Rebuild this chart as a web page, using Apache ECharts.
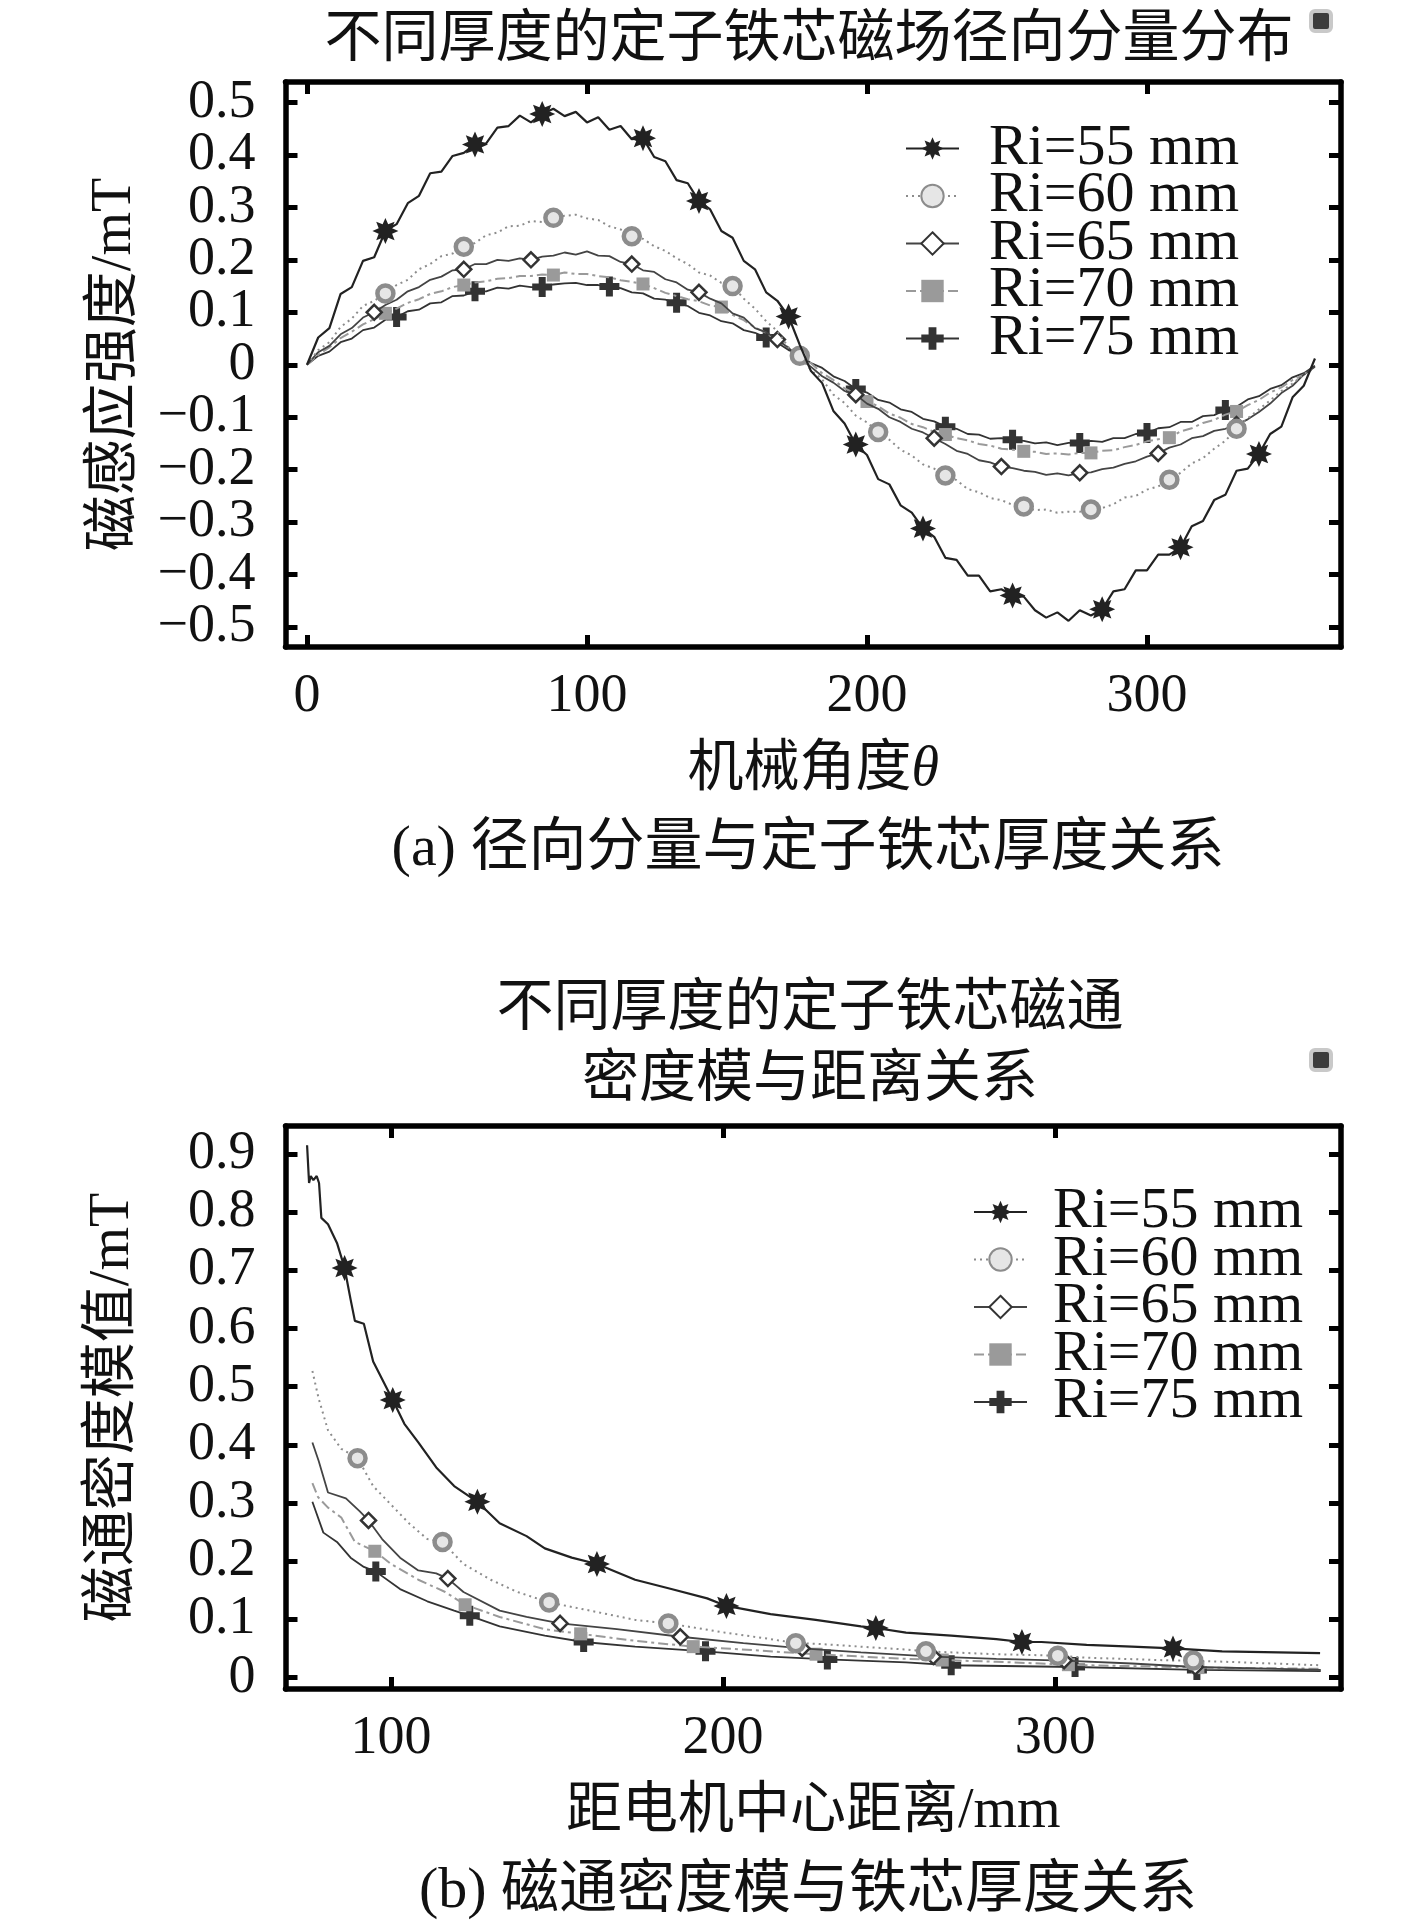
<!DOCTYPE html>
<html><head><meta charset="utf-8">
<script src="https://cdn.jsdelivr.net/npm/echarts@6/dist/echarts.min.js"></script>
<style>html,body{margin:0;padding:0;background:#fff;}#c{width:1417px;height:1926px;}</style>
</head><body><div id="c"></div>
<script>
// ---------- DATA ----------
const seriesNames = ['Ri=55 mm', 'Ri=60 mm', 'Ri=65 mm', 'Ri=70 mm', 'Ri=75 mm'];

// (a) radial component vs mechanical angle
const angleA = [0,4,8,12,16,20,24,28,32,36,40,44,48,52,56,60,64,68,72,76,80,84,88,92,96,100,104,108,112,116,
  120,124,128,132,136,140,144,148,152,156,160,164,168,172,176,180,184,188,192,196,200,204,208,212,216,220,224,228,232,236,
  240,244,248,252,256,260,264,268,272,276,280,284,288,292,296,300,304,308,312,316,320,324,328,332,336,340,344,348,352,356,360];
const a55 = [0.000,0.052,0.070,0.135,0.148,0.198,0.205,0.255,0.268,0.308,
  0.322,0.365,0.368,0.398,0.404,0.420,0.422,0.452,0.455,0.475,
  0.462,0.478,0.488,0.474,0.482,0.462,0.472,0.448,0.455,0.430,
  0.432,0.396,0.388,0.352,0.346,0.312,0.296,0.255,0.242,0.198,
  0.182,0.138,0.122,0.092,0.038,-0.012,-0.035,-0.088,-0.112,-0.152,
  -0.172,-0.218,-0.228,-0.268,-0.282,-0.312,-0.328,-0.368,-0.372,-0.402,
  -0.402,-0.432,-0.428,-0.440,-0.442,-0.468,-0.482,-0.472,-0.488,-0.468,
  -0.478,-0.466,-0.432,-0.428,-0.392,-0.392,-0.362,-0.362,-0.348,-0.308,
  -0.298,-0.258,-0.248,-0.202,-0.198,-0.170,-0.132,-0.118,-0.062,-0.040,
  0.012];
const a60 = [0.000,0.028,0.043,0.072,0.088,0.112,0.122,0.136,0.152,0.162,
  0.182,0.192,0.207,0.212,0.225,0.232,0.247,0.252,0.264,0.265,
  0.274,0.272,0.280,0.284,0.286,0.279,0.276,0.264,0.258,0.245,
  0.240,0.226,0.217,0.203,0.192,0.176,0.170,0.156,0.150,0.126,
  0.107,0.083,0.064,0.033,0.017,-0.010,-0.028,-0.057,-0.073,-0.097,
  -0.110,-0.128,-0.143,-0.162,-0.173,-0.190,-0.198,-0.211,-0.220,-0.237,
  -0.243,-0.254,-0.258,-0.267,-0.270,-0.277,-0.276,-0.282,-0.280,-0.280,
  -0.276,-0.273,-0.266,-0.253,-0.250,-0.238,-0.232,-0.219,-0.206,-0.188,
  -0.178,-0.160,-0.145,-0.122,-0.102,-0.085,-0.068,-0.050,-0.036,-0.018,
  -0.004];
const a65 = [0.000,0.024,0.036,0.058,0.070,0.090,0.100,0.114,0.124,0.140,
  0.148,0.162,0.168,0.180,0.182,0.192,0.192,0.200,0.198,0.203,
  0.200,0.206,0.208,0.214,0.210,0.216,0.208,0.207,0.196,0.192,
  0.180,0.177,0.163,0.157,0.143,0.138,0.126,0.117,0.098,0.090,
  0.070,0.062,0.048,0.032,0.013,-0.004,-0.022,-0.034,-0.050,-0.057,
  -0.074,-0.084,-0.100,-0.109,-0.122,-0.129,-0.140,-0.151,-0.164,-0.170,
  -0.182,-0.186,-0.194,-0.197,-0.202,-0.204,-0.210,-0.207,-0.211,-0.206,
  -0.205,-0.199,-0.196,-0.189,-0.184,-0.175,-0.169,-0.158,-0.152,-0.140,
  -0.136,-0.126,-0.122,-0.114,-0.104,-0.090,-0.074,-0.054,-0.040,-0.019,
  -0.004];
const a70 = [0.000,0.019,0.033,0.051,0.063,0.077,0.087,0.098,0.107,0.118,
  0.125,0.135,0.140,0.148,0.152,0.157,0.159,0.164,0.165,0.169,
  0.169,0.172,0.171,0.176,0.173,0.173,0.169,0.167,0.161,0.158,
  0.154,0.146,0.137,0.131,0.125,0.121,0.113,0.110,0.095,0.085,
  0.071,0.061,0.045,0.033,0.018,0.003,-0.016,-0.029,-0.045,-0.055,
  -0.070,-0.079,-0.093,-0.101,-0.113,-0.119,-0.128,-0.133,-0.140,-0.144,
  -0.151,-0.154,-0.160,-0.162,-0.165,-0.166,-0.170,-0.169,-0.171,-0.168,
  -0.168,-0.164,-0.163,-0.157,-0.153,-0.146,-0.142,-0.139,-0.127,-0.121,
  -0.111,-0.105,-0.095,-0.089,-0.077,-0.067,-0.053,-0.043,-0.029,-0.019,
  -0.006];
const a75 = [0.000,0.017,0.025,0.043,0.050,0.066,0.071,0.086,0.091,0.102,
  0.105,0.117,0.119,0.131,0.132,0.140,0.140,0.147,0.145,0.151,
  0.148,0.148,0.153,0.155,0.156,0.152,0.152,0.149,0.146,0.138,
  0.136,0.126,0.124,0.118,0.112,0.099,0.094,0.083,0.079,0.066,
  0.061,0.052,0.042,0.028,0.020,0.003,-0.006,-0.022,-0.031,-0.046,
  -0.053,-0.067,-0.072,-0.085,-0.090,-0.103,-0.108,-0.118,-0.122,-0.132,
  -0.133,-0.141,-0.140,-0.143,-0.145,-0.150,-0.148,-0.153,-0.149,-0.149,
  -0.145,-0.147,-0.140,-0.140,-0.132,-0.130,-0.121,-0.119,-0.109,-0.109,
  -0.098,-0.096,-0.086,-0.080,-0.066,-0.060,-0.046,-0.039,-0.024,-0.016,
  -0.002];
const marksA55 = [28,60,84,120,140,172,196,220,252,284,312,340];
const marksA60 = [28,56,88,116,152,176,204,228,256,280,308,332];
const marksA65 = [24,56,80,116,140,168,196,224,248,276,304,332];
const marksA70 = [28,56,88,120,148,176,200,228,256,280,308,332];
const marksA75 = [32,60,84,108,132,164,196,228,252,276,300,328];
const xTicksA = [0, 100, 200, 300];
const yTicksA = [-0.5,-0.4,-0.3,-0.2,-0.1,0,0.1,0.2,0.3,0.4,0.5];
const yLabelsA1 = [-0.4,-0.2,0,0.2,0.4];
const yLabelsA2 = [-0.5,-0.3,-0.1,0.1,0.3,0.5];

// (b) flux density magnitude vs distance from motor centre
const b55x = [74.7,75.3,75.8,76.6,77.6,78.3,79,81,83.7,86,87.8,89.1,91.8,94.6,100.5,104,108.2,113.6,119,126,132.7,140.8,146.3,154.4,162,173.5,184.4,195.2,201,214.3,227.9,241.5,246,255.1,268.7,282.3,290,295.9,309.5,323.1,335.5,350.3,379.8];
const b55y = [0.915,0.85,0.862,0.855,0.862,0.85,0.79,0.779,0.747,0.704,0.65,0.613,0.608,0.543,0.477,0.436,0.404,0.361,0.329,0.302,0.265,0.243,0.222,0.206,0.195,0.168,0.152,0.136,0.123,0.109,0.099,0.088,0.085,0.077,0.072,0.066,0.061,0.061,0.056,0.053,0.050,0.045,0.042];
const b60x = [76.3,78.2,81,85,89.9,94.6,100,105.4,110.9,115.5,121.8,130,138,147.6,159.9,173.5,183.5,200.7,214.3,221.9,227.9,255.1,261.1,282.3,300.8,309.5,336.7,341.6,380];
const b60y = [0.527,0.479,0.425,0.393,0.377,0.329,0.297,0.265,0.238,0.233,0.195,0.168,0.147,0.129,0.115,0.099,0.093,0.077,0.066,0.059,0.058,0.048,0.045,0.040,0.0375,0.034,0.029,0.029,0.021];
const b65x = [76.3,78.2,81,86.4,90.5,93.2,97.3,102.7,108.2,113.6,117.1,121.8,132.7,140.8,150.9,168,187.1,206.1,223.8,241.5,263.3,282.3,302.7,323.1,342.2,380];
const b65y = [0.404,0.372,0.318,0.308,0.286,0.27,0.238,0.206,0.184,0.179,0.17,0.147,0.115,0.104,0.093,0.083,0.07,0.059,0.05,0.043,0.036,0.032,0.029,0.024,0.018,0.013];
const b70x = [76.3,78,81,85,89.1,95.1,100,108.2,116.3,122.3,132.7,146.3,157.1,173.5,191,200.7,228,255.1,266,282.3,304,309.5,336.7,343,380];
const b70y = [0.334,0.31,0.292,0.275,0.233,0.217,0.195,0.168,0.147,0.125,0.104,0.083,0.075,0.063,0.053,0.05,0.04,0.032,0.03,0.027,0.022,0.021,0.018,0.017,0.015];
const b75x = [76.3,79.6,83.7,87.8,91.8,95.4,102.7,110.9,119,123.7,132.7,146.3,158,173.5,194.7,214.3,231.4,255.1,268.7,306,342.7,380];
const b75y = [0.302,0.249,0.233,0.206,0.19,0.182,0.152,0.131,0.115,0.106,0.088,0.072,0.061,0.053,0.045,0.036,0.031,0.026,0.021,0.018,0.013,0.011];
const marksB55 = [86,100.5,126,162,201,246,290,335.5];
const marksB60 = [89.9,115.5,147.6,183.5,221.9,261.1,300.8,341.6];
const marksB65 = [93.2,117.1,150.9,187.1,223.8,263.3,302.7,342.2];
const marksB70 = [95.1,122.3,157.1,191,228,266,304,343];
const marksB75 = [95.4,123.7,158,194.7,231.4,268.7,306,342.7];
const xTicksB = [100, 200, 300];
const yTicksB = [0,0.1,0.2,0.3,0.4,0.5,0.6,0.7,0.8,0.9];

// ---------- STYLE ----------
function starPath() {
  let d = '';
  for (let k = 0; k < 16; k++) {
    const r = k % 2 === 0 ? 10 : 5.6;
    const a = Math.PI * k / 8 - Math.PI / 2;
    d += (k ? 'L' : 'M') + (10 + r * Math.cos(a)).toFixed(2) + ',' + (10 + r * Math.sin(a)).toFixed(2);
  }
  return 'path://' + d + 'Z';
}
const plusPath = 'path://M6.5,0H13.5V6.5H20V13.5H13.5V20H6.5V13.5H0V6.5H6.5Z';
const looks = [
  {symbol: starPath(), size: 26, line: {color: '#222', width: 2.2, type: 'solid'}, item: {color: '#222'}},
  {symbol: 'circle', size: 16, line: {color: '#8c8c8c', width: 2, type: [2, 4]}, item: {color: '#e6e6e6', borderColor: '#8c8c8c', borderWidth: 4.5}},
  {symbol: 'diamond', size: 15, line: {color: '#444', width: 1.8, type: 'solid'}, item: {color: '#ffffff', borderColor: '#333', borderWidth: 2.5}},
  {symbol: 'rect', size: 13, line: {color: '#9a9a9a', width: 2, type: [10, 4, 3, 4]}, item: {color: '#9a9a9a'}},
  {symbol: plusPath, size: 20, line: {color: '#333', width: 1.8, type: 'solid'}, item: {color: '#333'}}
];
const SERIF = '"Liberation Serif", "Noto Sans CJK SC"';

function buildData(xs, ys, marks) {
  return xs.map((x, i) => marks.indexOf(x) >= 0 ? [x, ys[i]] : {value: [x, ys[i]], symbol: 'none'});
}
function lineSeries(k, xs, ys, marks, axisIdx) {
  const L = looks[k];
  return {
    type: 'line', name: seriesNames[k], xAxisIndex: axisIdx, yAxisIndex: axisIdx,
    data: buildData(xs, ys, marks), symbol: L.symbol, symbolSize: L.size,
    showSymbol: true, showAllSymbol: true, smooth: false,
    lineStyle: L.line, itemStyle: L.item, z: 10 - k, silent: true
  };
}
function frameAxis(pos, grid, min, max, ticks) {
  return {
    type: 'value', gridIndex: grid, position: pos, min: min, max: max,
    axisLine: {show: true, onZero: false, lineStyle: {color: '#000', width: 5.5}},
    axisTick: {show: true, inside: true, length: 12, customValues: ticks, lineStyle: {color: '#000', width: 5}},
    axisLabel: {show: false}, splitLine: {show: false}
  };
}
const labelStyle = {fontSize: 54, fontFamily: SERIF, color: '#111', showMinLabel: true, showMaxLabel: true, hideOverlap: false};
const nameStyle = {fontSize: 56, fontFamily: SERIF, color: '#111', verticalAlign: 'middle'};
function fmtY(v) { return v === 0 ? '0' : (v < 0 ? '\u2212' : '') + Math.abs(v).toFixed(1); }

const xA = frameAxis('bottom', 0, -7.68, 369.3, xTicksA);
xA.axisLabel = Object.assign({show: true, customValues: xTicksA, margin: 50, verticalAlign: 'middle'}, labelStyle);
xA.name = '机械角度{i|θ}'; xA.nameLocation = 'middle'; xA.nameGap = 123;
xA.nameTextStyle = Object.assign({rich: {i: {fontSize: 56, fontFamily: 'Liberation Serif', fontStyle: 'italic', color: '#111'}}}, nameStyle);
const yA = frameAxis('left', 0, -0.538, 0.539, yTicksA);
yA.axisLabel = Object.assign({show: true, customValues: yLabelsA1, margin: 30, formatter: fmtY}, labelStyle);
yA.name = '磁感应强度/mT'; yA.nameLocation = 'middle'; yA.nameGap = 170; yA.nameTextStyle = nameStyle;
// second label-only axis so that neighbouring labels never compete in overlap checks
const yA2 = {
  type: 'value', gridIndex: 0, position: 'left', min: -0.538, max: 0.539,
  axisLine: {show: false}, axisTick: {show: false}, splitLine: {show: false},
  axisLabel: Object.assign({show: true, customValues: yLabelsA2, margin: 30, formatter: fmtY}, labelStyle)
};

const xB = frameAxis('bottom', 1, 68.2, 386.1, xTicksB);
xB.axisLabel = Object.assign({show: true, customValues: xTicksB, margin: 50, verticalAlign: 'middle'}, labelStyle);
xB.name = '距电机中心距离/mm'; xB.nameLocation = 'middle'; xB.nameGap = 123; xB.nameTextStyle = nameStyle;
const yB = frameAxis('left', 1, -0.0198, 0.948, yTicksB);
yB.axisLabel = Object.assign({show: true, customValues: yTicksB, margin: 30, formatter: fmtY}, labelStyle);
yB.name = '磁通密度模值/mT'; yB.nameLocation = 'middle'; yB.nameGap = 172; yB.nameTextStyle = nameStyle;

function legendAt(left, top, pad) {
  return {
    data: seriesNames, orient: 'vertical', left: left, top: top, padding: 0, itemGap: -10.5,
    itemWidth: 53, itemHeight: 28, selectedMode: false,
    textStyle: {fontSize: 58, fontFamily: 'Liberation Serif', color: '#111', lineHeight: 47, padding: [0, 0, 0, pad]}
  };
}
function txt(x, y, s, size) {
  return {type: 'text', x: x, y: y, silent: true,
    style: {text: s, font: size + 'px ' + SERIF, fill: '#111', textAlign: 'center', textVerticalAlign: 'middle'}};
}
function icon(x, y) {
  return {type: 'rect', silent: true, shape: {x: x - 10, y: y - 10, width: 20, height: 20, r: 4},
    style: {fill: '#3c3c3c', stroke: '#c9c9c9', lineWidth: 4}};
}

const chart = echarts.init(document.getElementById('c'), null, {renderer: 'canvas'});
chart.setOption({
  backgroundColor: '#fff',
  animation: false,
  grid: [
    {left: 285.5, top: 82, width: 1055.5, height: 565, containLabel: false},
    {left: 285.5, top: 1126, width: 1055.5, height: 563, containLabel: false}
  ],
  xAxis: [xA, frameAxis('top', 0, -7.68, 369.3, xTicksA), xB, frameAxis('top', 1, 68.2, 386.1, xTicksB)],
  yAxis: [yA, frameAxis('right', 0, -0.538, 0.539, yTicksA), yB, frameAxis('right', 1, -0.0198, 0.948, yTicksB), yA2],
  legend: [legendAt(905, 119.5, 25), legendAt(973, 1183, 21)],
  series: [
    lineSeries(0, angleA, a55, marksA55, 0),
    lineSeries(1, angleA, a60, marksA60, 0),
    lineSeries(2, angleA, a65, marksA65, 0),
    lineSeries(3, angleA, a70, marksA70, 0),
    lineSeries(4, angleA, a75, marksA75, 0),
    lineSeries(0, b55x, b55y, marksB55, 2),
    lineSeries(1, b60x, b60y, marksB60, 2),
    lineSeries(2, b65x, b65y, marksB65, 2),
    lineSeries(3, b70x, b70y, marksB70, 2),
    lineSeries(4, b75x, b75y, marksB75, 2)
  ],
  graphic: [
    txt(809, 41, '不同厚度的定子铁芯磁场径向分量分布', 57),
    txt(808, 850, '(a) 径向分量与定子铁芯厚度关系', 58),
    txt(810, 1010, '不同厚度的定子铁芯磁通', 57),
    txt(810, 1081, '密度模与距离关系', 57),
    txt(808, 1892, '(b) 磁通密度模与铁芯厚度关系', 58),
    icon(1321, 21),
    icon(1321, 1060)
  ]
});
</script>
</body></html>
